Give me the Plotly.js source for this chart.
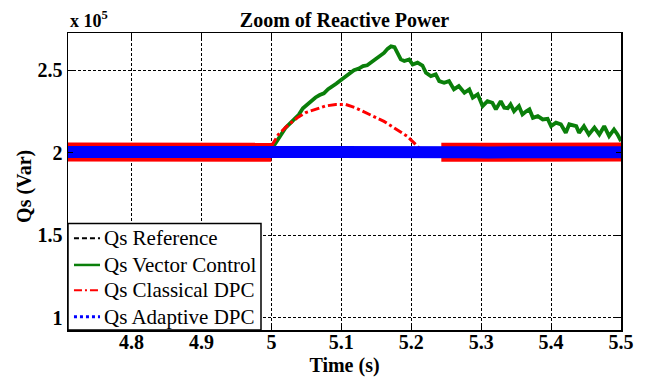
<!DOCTYPE html>
<html>
<head>
<meta charset="utf-8">
<script src="https://cdn.plot.ly/plotly-3.0.1.min.js"></script>
<style>html,body{margin:0;padding:0;background:#fff;}#chart{width:649px;height:377px;}</style>
</head>
<body>
<div id="chart"></div>
<script>
// Values in units of 10^5 Var
var seriesNames = ['Qs Reference', 'Qs Vector Control', 'Qs Classical DPC', 'Qs Adaptive DPC'];
var xTicks = [4.8, 4.9, 5.0, 5.1, 5.2, 5.3, 5.4, 5.5];
var xTickText = ['4.8', '4.9', '5', '5.1', '5.2', '5.3', '5.4', '5.5'];
var yTicks = [1, 1.5, 2, 2.5];
var yTickText = ['1', '1.5', '2', '2.5'];

var tRef = [4.709, 5.5];
var qRef = [2.0, 2.0];

var tVec = [4.709, 4.8, 4.9, 4.99, 5.0, 5.006, 5.013, 5.02, 5.027, 5.033, 5.039, 5.045, 5.05, 5.056, 5.063, 5.069, 5.075, 5.081, 5.087, 5.093, 5.099, 5.105, 5.111, 5.118, 5.125, 5.131, 5.137, 5.143, 5.149, 5.155, 5.161, 5.166, 5.171, 5.176, 5.18, 5.185, 5.19, 5.197, 5.202, 5.209, 5.216, 5.221, 5.228, 5.235, 5.24, 5.247, 5.254, 5.261, 5.268, 5.276, 5.283, 5.288, 5.295, 5.302, 5.309, 5.316, 5.321, 5.328, 5.333, 5.338, 5.342, 5.347, 5.354, 5.359, 5.364, 5.369, 5.374, 5.381, 5.388, 5.395, 5.4, 5.407, 5.414, 5.421, 5.426, 5.431, 5.436, 5.44, 5.447, 5.454, 5.462, 5.469, 5.476, 5.483, 5.49, 5.495, 5.5];
var qVec = [2.0, 2.002, 1.998, 2.0, 2.02, 2.06, 2.11, 2.15, 2.18, 2.205, 2.23, 2.27, 2.29, 2.31, 2.335, 2.35, 2.36, 2.385, 2.4, 2.42, 2.44, 2.46, 2.48, 2.5, 2.51, 2.525, 2.53, 2.55, 2.57, 2.59, 2.605, 2.63, 2.645, 2.64, 2.606, 2.566, 2.556, 2.566, 2.535, 2.546, 2.529, 2.485, 2.465, 2.475, 2.434, 2.424, 2.434, 2.384, 2.404, 2.364, 2.384, 2.334, 2.354, 2.283, 2.313, 2.303, 2.263, 2.313, 2.273, 2.27, 2.293, 2.252, 2.283, 2.232, 2.25, 2.263, 2.212, 2.222, 2.202, 2.206, 2.161, 2.182, 2.172, 2.121, 2.172, 2.165, 2.161, 2.121, 2.161, 2.111, 2.152, 2.111, 2.161, 2.101, 2.141, 2.111, 2.07];

// Classical DPC: ripple band before the step, transient, ripple band after
var tCls1 = [4.709, 4.74, 4.77, 4.8, 4.83, 4.86, 4.89, 4.92, 4.95, 4.98, 5.0];
var qCls1 = [2.004, 2.002, 2.005, 2.003, 2.004, 2.002, 2.005, 2.003, 2.004, 2.002, 2.003];
var tCls2 = [5.0, 5.01, 5.025, 5.037, 5.049, 5.063, 5.077, 5.092, 5.106, 5.12, 5.135, 5.149, 5.161, 5.175, 5.185, 5.194, 5.204, 5.211, 5.215];
var qCls2 = [2.04, 2.111, 2.172, 2.212, 2.243, 2.263, 2.283, 2.293, 2.293, 2.273, 2.243, 2.212, 2.19, 2.152, 2.125, 2.1, 2.06, 2.03, 2.0];
var tCls3 = [5.243, 5.27, 5.3, 5.33, 5.36, 5.39, 5.42, 5.45, 5.48, 5.5];
var qCls3 = [2.003, 2.005, 2.002, 2.004, 2.003, 2.005, 2.002, 2.004, 2.003, 2.004];

var tAda = [4.709, 4.73, 4.75, 4.77, 4.79, 4.81, 4.83, 4.85, 4.87, 4.89, 4.91, 4.93, 4.95, 4.97, 4.99, 5.01, 5.03, 5.05, 5.07, 5.09, 5.11, 5.13, 5.15, 5.17, 5.19, 5.21, 5.23, 5.25, 5.27, 5.29, 5.31, 5.33, 5.35, 5.37, 5.39, 5.41, 5.43, 5.45, 5.47, 5.49, 5.5];
var qAda = [2.004, 2.003, 2.005, 2.004, 2.003, 2.005, 2.004, 2.003, 2.005, 2.004, 2.003, 2.004, 2.005, 2.003, 2.004, 2.005, 2.004, 2.003, 2.004, 2.005, 2.003, 2.004, 2.005, 2.003, 2.004, 2.005, 2.003, 2.002, 2.004, 2.003, 2.002, 2.004, 2.003, 2.002, 2.004, 2.003, 2.002, 2.004, 2.003, 2.002, 2.003];

var GREEN = '#0a7f0a', RED = '#ff0000', BLUE = '#0000ff';
var seriesColors = ['#000000', GREEN, RED, BLUE];
var legendDash = ['5px,3px', 'solid', '8px,3px,2px,3px', '3px,3px'];
var legendWidth = [2, 2.5, 2, 3];

var traces = [
  {x: tRef, y: qRef, mode: 'lines', name: seriesNames[0], line: {color: seriesColors[0], width: 2, dash: 'dash'}, hoverinfo: 'skip'},
  {x: tVec, y: qVec, mode: 'lines', name: seriesNames[1], line: {color: GREEN, width: 3.8}, hoverinfo: 'skip'},
  {x: tCls1, y: qCls1, mode: 'lines', name: seriesNames[2], line: {color: RED, width: 19}, hoverinfo: 'skip'},
  {x: tCls2, y: qCls2, mode: 'lines', name: seriesNames[2], line: {color: RED, width: 3, dash: 'dashdot'}, hoverinfo: 'skip'},
  {x: tCls3, y: qCls3, mode: 'lines', name: seriesNames[2], line: {color: RED, width: 19}, hoverinfo: 'skip'},
  {x: tAda, y: qAda, mode: 'lines', name: seriesNames[3], line: {color: BLUE, width: 12}, hoverinfo: 'skip'}
];

var serif = 'Liberation Serif';
var axisCommon = {
  showgrid: true, gridcolor: '#000', gridwidth: 1, griddash: '3px,2px',
  showline: true, linecolor: '#000', linewidth: 1.5, mirror: 'ticks',
  ticks: 'inside', ticklen: 5, tickcolor: '#000', tickwidth: 1,
  zeroline: false, fixedrange: true,
  tickfont: {family: serif, size: 20, color: '#000', weight: 'bold'}
};

// Hand-drawn legend box (matches the MATLAB legend in the lower-left corner)
var legX1 = 0.349, legY1 = 0.359;
var rowY = [0.309, 0.219, 0.134, 0.045];
var shapes = [{type: 'rect', xref: 'paper', yref: 'paper', x0: 0, x1: legX1, y0: 0, y1: legY1,
               fillcolor: '#fff', line: {color: '#000', width: 1.5}, layer: 'above'}];
var annotations = [{
  text: '<b>x 10<sup>5</sup></b>', xref: 'paper', yref: 'paper', x: 0, y: 1,
  xanchor: 'left', yanchor: 'bottom', yshift: 0, showarrow: false,
  font: {family: serif, size: 18, color: '#000'}
}, {
  text: '<b>Qs (Var)</b>', xref: 'paper', yref: 'paper', x: -0.0778, y: 0.485,
  xanchor: 'center', yanchor: 'middle', textangle: -90, showarrow: false,
  font: {family: serif, size: 20, color: '#000'}
}];
for (var i = 0; i < seriesNames.length; i++) {
  shapes.push({type: 'line', xref: 'paper', yref: 'paper', x0: 0.0108, x1: 0.0579, y0: rowY[i], y1: rowY[i],
               line: {color: seriesColors[i], width: legendWidth[i], dash: legendDash[i]}, layer: 'above'});
  annotations.push({text: seriesNames[i], xref: 'paper', yref: 'paper', x: 0.0615, y: rowY[i],
                    xanchor: 'left', yanchor: 'middle', showarrow: false,
                    font: {family: serif, size: 21, color: '#000'}});
}

var layout = {
  width: 649, height: 377,
  margin: {l: 68, r: 28, t: 33, b: 47, pad: 0},
  paper_bgcolor: '#fff', plot_bgcolor: '#fff',
  showlegend: false,
  title: {text: 'Zoom of Reactive Power', font: {family: serif, size: 20, color: '#000', weight: 'bold'},
          x: 0.5, xref: 'paper', xanchor: 'center', y: 1 - 20 / 377, yref: 'container', yanchor: 'middle'},
  xaxis: Object.assign({}, axisCommon, {
    range: [4.709, 5.5], tickvals: xTicks, ticktext: xTickText, ticklabelstandoff: -7,
    title: {text: 'Time (s)', font: {family: serif, size: 20, color: '#000', weight: 'bold'}, standoff: 6}
  }),
  yaxis: Object.assign({}, axisCommon, {
    range: [0.925, 2.726], tickvals: yTicks, ticktext: yTickText
  }),
  shapes: shapes,
  annotations: annotations
};

Plotly.newPlot('chart', traces, layout, {staticPlot: true, displayModeBar: false});
</script>
</body>
</html>
